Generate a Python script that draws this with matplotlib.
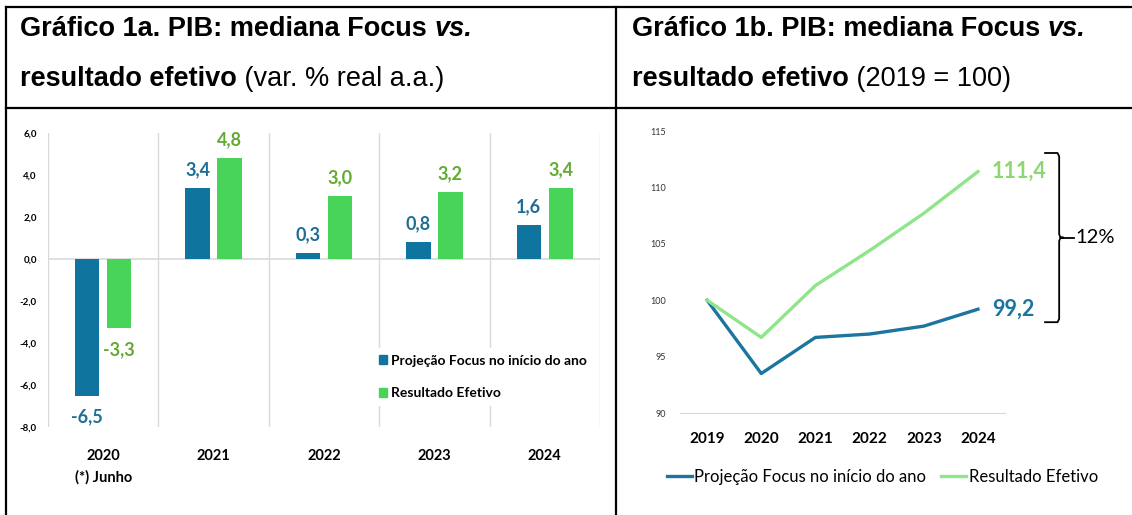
import numpy as np
import matplotlib.pyplot as plt
from matplotlib.lines import Line2D
from matplotlib.patches import Patch

# dados
anos_a = ["2020\n(*) Junho", "2021", "2022", "2023", "2024"]
focus_a = [-6.5, 3.4, 0.3, 0.8, 1.6]
efetivo_a = [-3.3, 4.8, 3.0, 3.2, 3.4]

anos_b = ["2019", "2020", "2021", "2022", "2023", "2024"]
focus_b = [100.0, 93.5, 96.7, 97.0, 97.7, 99.2]
efetivo_b = [100.0, 96.7, 101.3, 104.4, 107.7, 111.4]

AZUL = "#10759e"
VERDE = "#47d459"
AZUL_TXT = "#1f6e96"
VERDE_TXT = "#62ab30"
AZUL_L = "#1b75a0"
VERDE_L = "#8ee58a"
FONTE = "Lato"

W, H = 1132, 515
fig = plt.figure(figsize=(W / 100, H / 100), dpi=100)

def px(x0, y0, x1, y1):
    # caixa em pixels -> fração da figura
    return [x0 / W, 1 - y1 / H, (x1 - x0) / W, (y1 - y0) / H]

# ---- bordas da tabela
for xs, ys in [([6, W], [7, 7]), ([6, W], [108, 108]), ([6, 6], [7, H]), ([616, 616], [7, H])]:
    fig.add_artist(Line2D([x / W for x in xs], [1 - y / H for y in ys], color="black", lw=1.6))

# ---- títulos com estilos misturados
def titulo(x, y, partes):
    r = fig.canvas.get_renderer()
    for txt, peso, estilo in partes:
        t = fig.text(x / W, 1 - y / H, txt, fontsize=19.5, family="Liberation Sans",
                     weight=peso, style=estilo, va="baseline", ha="left")
        bb = t.get_window_extent(renderer=r)
        x = bb.x1

titulo(20, 36, [("Gráfico 1a. PIB: mediana Focus ", "bold", "normal"), ("vs.", "bold", "italic")])
titulo(20, 86, [("resultado efetivo", "bold", "normal"), (" (var. % real a.a.)", "normal", "normal")])
titulo(632, 36, [("Gráfico 1b. PIB: mediana Focus ", "bold", "normal"), ("vs.", "bold", "italic")])
titulo(632, 86, [("resultado efetivo", "bold", "normal"), (" (2019 = 100)", "normal", "normal")])

# ---- gráfico 1a (barras)
ax = fig.add_axes(px(48, 133, 600, 427))
x = np.arange(len(anos_a))
larg = 0.22
ax.bar(x - 0.145, focus_a, larg, color=AZUL, zorder=3)
ax.bar(x + 0.145, efetivo_a, larg, color=VERDE, zorder=3)
ax.set_xlim(-0.5, len(anos_a) - 0.5)
ax.set_ylim(-8, 6)
for xv in np.arange(-0.5, len(anos_a), 1):
    ax.axvline(xv, color="#d9d9d9", lw=1, zorder=1)
ax.axhline(0, color="#d9d9d9", lw=1.2, zorder=2)
for s in ax.spines.values():
    s.set_visible(False)
ax.set_yticks(np.arange(-8, 7, 2))
ax.set_yticklabels([f"{v:.1f}".replace(".", ",") for v in np.arange(-8, 7, 2)],
                   fontsize=7, family=FONTE, weight="bold")
ax.set_xticks(x)
ax.set_xticklabels(anos_a, fontsize=10.5, family=FONTE, weight="bold", linespacing=1.6)
ax.tick_params(length=0, pad=16)
ax.tick_params(axis="y", pad=8)

for i in range(len(anos_a)):
    for val, dx, cor in [(focus_a[i], -0.145, AZUL_TXT), (efetivo_a[i], 0.145, VERDE_TXT)]:
        off = 7 if val >= 0 else -9
        ax.annotate(f"{val:.1f}".replace(".", ","), (x[i] + dx, val), xytext=(0, off),
                    textcoords="offset points", ha="center",
                    va="bottom" if val >= 0 else "top",
                    fontsize=13, family=FONTE, weight="bold", color=cor)

leg = ax.legend(handles=[Patch(color=AZUL, label="Projeção Focus no início do ano"),
                         Patch(color=VERDE, label="Resultado Efetivo")],
                loc="center left", bbox_to_anchor=(0.574, 0.17), frameon=True,
                edgecolor="none", facecolor="white", framealpha=1,
                prop={"family": FONTE, "weight": "bold", "size": 10},
                handlelength=0.6, handleheight=0.6, handletextpad=0.3,
                labelspacing=1.5, borderpad=0.5, fancybox=False)
leg.set_zorder(5)

# ---- gráfico 1b (linhas)
bx = fig.add_axes(px(680, 131, 1005, 413))
xb = np.arange(len(anos_b))
bx.plot(xb, focus_b, color=AZUL_L, lw=2.4, label="Projeção Focus no início do ano")
bx.plot(xb, efetivo_b, color=VERDE_L, lw=2.4, label="Resultado Efetivo")
bx.set_xlim(-0.5, len(anos_b) - 0.5)
bx.set_ylim(90, 115)
for s in ["top", "right", "left"]:
    bx.spines[s].set_visible(False)
bx.spines["bottom"].set_color("#d9d9d9")
bx.set_yticks(np.arange(90, 116, 5))
bx.set_yticklabels([str(v) for v in range(90, 116, 5)], fontsize=6.5, family=FONTE, color="#333333")
bx.set_xticks(xb)
bx.set_xticklabels(anos_b, fontsize=11, family=FONTE, weight="bold")
bx.tick_params(length=0)
bx.tick_params(axis="x", pad=14)
bx.tick_params(axis="y", pad=10)

bx.annotate(f"{efetivo_b[-1]:.1f}".replace(".", ","), (xb[-1], efetivo_b[-1]), xytext=(10, 0),
            textcoords="offset points", va="center", ha="left", fontsize=15.5, family=FONTE,
            weight="bold", color="#8cd870", annotation_clip=False)
bx.annotate(f"{focus_b[-1]:.1f}".replace(".", ","), (xb[-1], focus_b[-1]), xytext=(10, 0),
            textcoords="offset points", va="center", ha="left", fontsize=15.5, family=FONTE,
            weight="bold", color=AZUL_L, annotation_clip=False)

# chave "12%"
topo, base = 113.05, 98.05
meio = (topo + base) / 2
xa, xv, xp = 6.24, 6.50, 6.58
chave_x = [xa, xv - 0.03, xv, xv, xv + 0.02, xp, xv + 0.02, xv, xv, xv - 0.03, xa]
chave_y = [topo, topo, topo - 0.3, meio + 0.3, meio + 0.05, meio, meio - 0.05, meio - 0.3, base + 0.3, base, base]
bx.plot(chave_x, chave_y, color="black", lw=1.3, clip_on=False, solid_joinstyle="round")
bx.plot([xp, 6.78], [meio, meio], color="black", lw=1.3, clip_on=False)
bx.text(6.8, meio, "12%", fontsize=14.5, family=FONTE, va="center", ha="left", color="black")

bx.legend(loc="center", bbox_to_anchor=(0.623, (413 - 477) / 282), ncol=2, frameon=False,
          prop={"family": FONTE, "size": 12}, handlelength=1.5, handletextpad=0.15,
          columnspacing=0.9)

fig.savefig("out.png", dpi=100)
